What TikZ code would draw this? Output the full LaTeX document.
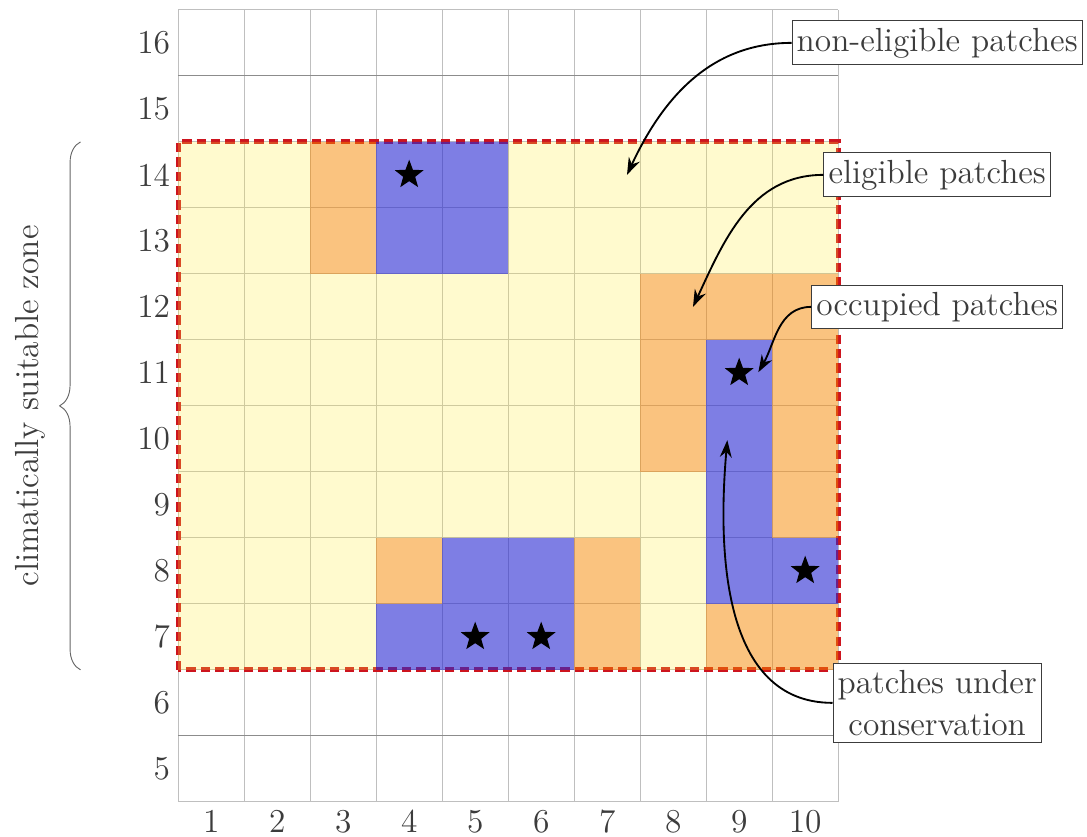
\documentclass[tikz,border=0pt]{standalone}
\usepackage{amsmath,amssymb}
\usepackage{xcolor}
\usepackage{tikz}
\usetikzlibrary{arrows.meta,positioning,shapes.geometric,decorations.pathreplacing}
\definecolor{lemon}{RGB}{255,235,60}
\definecolor{ochre}{RGB}{245,135,0}
\definecolor{royal}{RGB}{40,40,210}
\definecolor{brick}{RGB}{205,20,30}
\definecolor{ink}{RGB}{60,60,60}

\begin{document}
\begin{tikzpicture}[
      >={Stealth[length=2.6mm,width=1.8mm]},
      cellgrid/.style={draw=black!25,line width=0.5pt},
      yelcell/.style={fill=lemon,fill opacity=0.25},
      orcell/.style={fill=ochre,fill opacity=0.5},
      blucell/.style={fill=royal,fill opacity=0.6},
      zone/.style={draw=brick,line width=2.2pt,dash pattern=on 4pt off 2.2pt},
      occ/.style={star,star points=5,star point ratio=2.4,fill=black,inner sep=0pt,minimum size=4.6mm},
      callout/.style={draw=ink,fill=white,text=ink,font=\Large,inner xsep=2pt,inner ysep=3pt,align=center},
      pointer/.style={->,thick},
      lbl/.style={font=\Large,text=ink},
    ]
    \useasboundingbox (-2.2,3.97) rectangle (14.27,16.65);
    \draw[cellgrid,xshift=0.5cm,yshift=0.5cm] (0,4) grid (10,16);
    \draw[black!45] (0.5,5.5) -- (10.5,5.5);
    \draw[black!45] (0.5,15.5) -- (10.5,15.5);
    \draw[zone] (0.5,6.5) rectangle (10.5,14.5);
    \fill[yelcell] (0.5,6.5) rectangle (2.5,14.5) (2.5,6.5) rectangle (3.5,12.5)
                   (3.5,8.5) rectangle (7.5,12.5) (5.5,12.5) rectangle (10.5,14.5)
                   (7.5,6.5) rectangle (8.5,9.5);
    \fill[orcell] (2.5,12.5) rectangle (3.5,14.5) (7.5,11.5) rectangle (10.5,12.5)
                  (7.5,9.5) rectangle (8.5,11.5) (9.5,8.5) rectangle (10.5,11.5)
                  (3.5,7.5) rectangle (4.5,8.5) (6.5,6.5) rectangle (7.5,8.5)
                  (8.5,6.5) rectangle (10.5,7.5);
    \fill[blucell] (3.5,12.5) rectangle (5.5,14.5) (8.5,8.5) rectangle (9.5,11.5)
                   (4.5,7.5) rectangle (6.5,8.5) (8.5,7.5) rectangle (10.5,8.5)
                   (3.5,6.5) rectangle (6.5,7.5);
    \node[occ] (s1) at (4,14) {};
    \node[occ] (s2) at (9,11) {};
    \node[occ] (s3) at (10,8) {};
    \node[occ] (s4) at (5,7)  {};
    \node[occ] (s5) at (6,7)  {};
    \foreach \j in {5,...,16} \node[lbl,left] (r\j) at (0.5,\j) {\j};
    \foreach \i in {1,...,10} \node[lbl,below] (c\i) at (\i,4.5) {\i};
    \coordinate (zonebot) at (-0.98,6.5);
    \coordinate (zonetop) at (-0.98,14.5);
    \draw[decorate,decoration={brace,amplitude=9pt},draw=black!60] (zonebot) -- (zonetop);
    \node[lbl,rotate=90] (zonelbl) at (-1.74,10.5) {climatically suitable zone};
    \node[callout] (noneli) at (12,16) {non-eligible patches};
    \node[callout] (eli)    at (12,14) {eligible patches};
    \node[callout] (occp)   at (12,12) {occupied patches};
    \node[callout] (cons)   at (12,6)  {patches under\\conservation};
    \coordinate (nonelitip) at (7.3,14);
    \coordinate (elitip)    at (8.3,12);
    \coordinate (occptip)   at (9.29,11.01);
    \coordinate (constip)   at (8.82,9.98);
    \draw[pointer] (noneli.west) to[out=180,in=65] (nonelitip);
    \draw[pointer] (eli.west) to[out=180,in=65] (elitip);
    \draw[pointer] (occp.west) to[out=180,in=60] (occptip);
    \draw[pointer] (cons.west) to[out=180,in=-95] (constip);
  \end{tikzpicture}
\end{document}
